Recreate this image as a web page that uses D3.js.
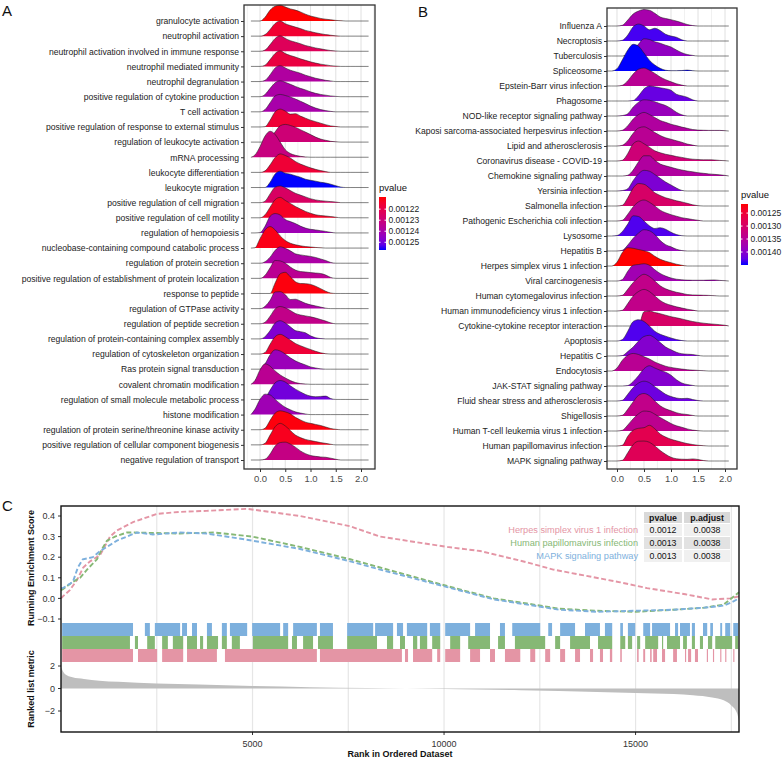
<!DOCTYPE html>
<html><head><meta charset="utf-8">
<script src="https://cdn.jsdelivr.net/npm/d3@7"></script>
<style>body{margin:0;background:#fff}text{font-family:"Liberation Sans",Arial,Helvetica,sans-serif}</style>
</head><body><svg id="chart" width="784" height="759"></svg>
<script>
// ---------------- DATA ----------------
const A_TERMS = ["granulocyte activation","neutrophil activation","neutrophil activation involved in immune response","neutrophil mediated immunity","neutrophil degranulation","positive regulation of cytokine production","T cell activation","positive regulation of response to external stimulus","regulation of leukocyte activation","mRNA processing","leukocyte differentiation","leukocyte migration","positive regulation of cell migration","positive regulation of cell motility","regulation of hemopoiesis","nucleobase-containing compound catabolic process","regulation of protein secretion","positive regulation of establishment of protein localization","response to peptide","regulation of GTPase activity","regulation of peptide secretion","regulation of protein-containing complex assembly","regulation of cytoskeleton organization","Ras protein signal transduction","covalent chromatin modification","regulation of small molecule metabolic process","histone modification","regulation of protein serine/threonine kinase activity","positive regulation of cellular component biogenesis","negative regulation of transport"];
const A_PVALUE = [0.001209,0.001215,0.001223,0.001218,0.001238,0.001239,0.001240,0.001216,0.001229,0.001231,0.001216,0.001257,0.001225,0.001213,0.001242,0.001211,0.001239,0.001235,0.001210,0.001239,0.001233,0.001248,0.001216,0.001243,0.001235,0.001250,0.001242,0.001210,0.001212,0.001232];
const A_X = [-0.18,-0.1,0,0.1,0.2,0.3,0.4,0.5,0.6,0.7,0.8,0.9,1.0,1.1,1.2,1.3,1.4,1.5,1.6,1.7,1.8,1.9,2.0,2.1,2.15];
const A_DENSITY = [
[0,0,0,.25,.72,.98,1.05,.92,.8,.72,.6,.45,.33,.25,.17,.12,.08,.04,.02,0,0,0,0,0,0],
[0,0,0,.1,.44,.84,1.0,.82,.7,.6,.5,.38,.3,.22,.16,.1,.06,.02,0,0,0,0,0,0,0],
[0,0,0,.08,.44,.85,1.02,.85,.7,.6,.5,.38,.3,.22,.16,.1,.05,.02,0,0,0,0,0,0,0],
[0,0,0,.08,.45,.86,1.03,.85,.72,.62,.5,.4,.3,.22,.15,.1,.05,.02,0,0,0,0,0,0,0],
[0,0,0,.08,.45,.9,1.05,.9,.75,.65,.55,.42,.32,.22,.15,.08,.04,0,0,0,0,0,0,0,0],
[0,0,0,.15,.55,.92,1.05,.95,.82,.68,.55,.45,.32,.22,.15,.1,.05,.02,0,0,0,0,0,0,0],
[0,0,0,.15,.6,1.05,1.15,1.08,.98,.85,.7,.55,.38,.25,.15,.08,.03,0,0,0,0,0,0,0,0],
[0,0,0,.02,.45,1.0,1.18,1.05,.85,.88,.72,.58,.45,.35,.25,.15,.07,.03,0,0,0,0,0,0,0],
[0,0,0,0,.25,.68,1.08,1.17,1.1,.98,.82,.66,.5,.33,.2,.12,.05,.02,0,0,0,0,0,0,0],
[0,.15,.7,1.4,1.72,1.5,1.0,.5,.25,.13,.06,.02,0,0,0,0,0,0,0,0,0,0,0,0,0],
[0,0,0,.1,.5,.98,1.22,1.12,.95,.72,.55,.42,.3,.2,.12,.05,0,0,0,0,0,0,0,0,0],
[0,0,0,0,.35,.9,1.08,.95,.88,.78,.68,.55,.48,.42,.35,.3,.22,.12,.03,0,0,0,0,0,0],
[0,0,0,.1,.58,1.02,1.1,.98,.8,.62,.5,.38,.26,.18,.13,.1,.07,.04,0,0,0,0,0,0,0],
[0,0,0,.2,.7,1.2,1.35,1.15,.95,.75,.58,.42,.3,.2,.15,.12,.08,.04,0,0,0,0,0,0,0],
[0,0,.02,.44,1.1,1.28,1.18,.88,.75,.62,.45,.32,.24,.2,.15,.1,.04,0,0,0,0,0,0,0,0],
[0,.02,.62,1.2,1.42,1.2,.8,.5,.32,.22,.15,.1,.07,.04,.02,0,0,0,0,0,0,0,0,0,0],
[0,0,0,.1,.4,.85,1.08,.98,.82,.62,.55,.5,.45,.38,.28,.18,.05,0,0,0,0,0,0,0,0],
[0,0,0,.2,.7,1.18,1.15,1.0,.75,.55,.45,.42,.38,.35,.32,.22,.06,0,0,0,0,0,0,0,0],
[0,0,0,0,0,.7,1.3,1.4,1.1,.78,.66,.65,.6,.48,.32,.15,.03,0,0,0,0,0,0,0,0],
[0,0,0,.15,.55,1.1,1.12,.92,.6,.62,.5,.35,.25,.18,.1,.03,0,0,0,0,0,0,0,0,0],
[0,0,0,.1,.5,.98,1.14,1.05,.88,.68,.58,.52,.46,.38,.28,.18,.06,0,0,0,0,0,0,0,0],
[0,0,0,.15,.55,1.05,1.2,1.05,.8,.55,.48,.4,.2,.08,.02,0,0,0,0,0,0,0,0,0,0],
[0,0,0,.1,.65,1.15,1.3,1.15,.92,.7,.55,.42,.3,.18,.08,.02,0,0,0,0,0,0,0,0,0],
[0,0,0,.35,.95,1.28,1.2,1.0,.75,.55,.4,.28,.15,.08,.02,0,0,0,0,0,0,0,0,0,0],
[0,.25,.95,1.35,1.2,.88,.62,.42,.25,.12,.05,.02,0,0,0,0,0,0,0,0,0,0,0,0,0],
[0,0,0,.1,.62,1.1,1.25,1.15,.9,.68,.5,.33,.22,.18,.2,.22,.06,0,0,0,0,0,0,0,0],
[0,.35,1.0,1.35,1.3,1.0,.72,.48,.32,.18,.1,.04,0,0,0,0,0,0,0,0,0,0,0,0,0],
[0,0,0,.1,.62,1.1,1.25,1.18,1.05,.82,.65,.5,.42,.35,.28,.18,.08,.03,0,0,0,0,0,0,0],
[0,0,0,.1,.65,1.2,1.42,1.25,.95,.65,.48,.36,.28,.22,.15,.1,.04,0,0,0,0,0,0,0,0],
[0,0,0,.05,.4,.92,1.15,1.18,1.05,.85,.6,.42,.3,.24,.2,.18,.12,.05,0,0,0,0,0,0,0]
];
const A_LEGEND_TICKS = [0.00122,0.00123,0.00124,0.00125];

const B_TERMS = ["Influenza A","Necroptosis","Tuberculosis","Spliceosome","Epstein-Barr virus infection","Phagosome","NOD-like receptor signaling pathway","Kaposi sarcoma-associated herpesvirus infection","Lipid and atherosclerosis","Coronavirus disease - COVID-19","Chemokine signaling pathway","Yersinia infection","Salmonella infection","Pathogenic Escherichia coli infection","Lysosome","Hepatitis B","Herpes simplex virus 1 infection","Viral carcinogenesis","Human cytomegalovirus infection","Human immunodeficiency virus 1 infection","Cytokine-cytokine receptor interaction","Apoptosis","Hepatitis C","Endocytosis","JAK-STAT signaling pathway","Fluid shear stress and atherosclerosis","Shigellosis","Human T-cell leukemia virus 1 infection","Human papillomavirus infection","MAPK signaling pathway"];
const B_PVALUE = [0.001368,0.001438,0.001391,0.001450,0.001344,0.001422,0.001384,0.001356,0.001344,0.001314,0.001356,0.001408,0.001297,0.001349,0.001434,0.001384,0.001215,0.001375,0.001333,0.001333,0.001297,0.001434,0.001403,0.001344,0.001403,0.001419,0.001333,0.001340,0.001274,0.001281];
const B_X = [-0.19,-0.1,0,0.1,0.2,0.3,0.4,0.5,0.6,0.7,0.8,0.9,1.0,1.1,1.2,1.3,1.4,1.5,1.6,1.7,1.8,1.9,2.0,2.07];
const B_DENSITY = [
[0,0,0,.05,.4,.8,1.0,1.1,1.05,.85,.6,.5,.42,.33,.22,.1,.03,0,0,0,0,0,0,0],
[0,0,0,.05,.4,.95,1.13,1.0,.75,.85,.7,.45,.33,.25,.08,0,0,0,0,0,0,0,0,0],
[0,0,0,0,.1,.4,.8,1.15,1.1,.95,.85,.72,.6,.4,.22,.1,.04,0,0,0,0,0,0,0],
[0,0,.15,.75,1.4,1.78,1.65,1.2,.72,.4,.18,.05,.02,.02,.03,.06,.02,0,0,0,0,0,0,0],
[0,0,0,.05,.35,.8,1.12,1.2,1.05,.84,.6,.42,.28,.15,.06,0,0,0,0,0,0,0,0,0],
[0,0,0,0,0,.03,.35,.8,1.0,.95,.88,.82,.72,.45,.35,.25,.08,0,0,0,0,0,0,0],
[0,0,0,.03,.15,.6,.92,1.08,1.05,.95,.82,.7,.5,.25,.08,0,0,0,0,0,0,0,0,0],
[0,0,0,.05,.35,.8,1.1,1.24,1.1,.9,.7,.58,.45,.36,.26,.18,.1,.06,.05,.04,.04,.04,.02,0],
[0,0,0,.05,.35,.85,1.2,1.28,1.12,.9,.7,.55,.45,.35,.25,.13,.06,0,0,0,0,0,0,0],
[0,0,0,.05,.5,1.15,1.33,1.15,.92,.68,.55,.45,.38,.3,.24,.17,.12,.1,.08,.08,.07,.04,.02,0],
[0,0,0,0,.05,.4,.95,1.35,1.35,1.05,.8,.68,.58,.48,.4,.33,.28,.22,.18,.14,.11,.08,.04,0],
[0,0,0,.03,.15,.7,1.15,1.38,1.32,1.1,.85,.6,.4,.2,.04,0,0,0,0,0,0,0,0,0],
[0,0,0,.05,.55,1.2,1.5,1.45,1.2,.88,.7,.55,.45,.35,.27,.18,.08,.02,0,0,0,0,0,0],
[0,0,0,.05,.45,.95,1.28,1.4,1.25,1.0,.72,.55,.42,.32,.22,.16,.1,.05,0,0,0,0,0,0],
[0,0,.03,.3,.8,1.35,1.3,1.0,.68,.5,.55,.45,.25,.1,.02,0,0,0,0,0,0,0,0,0],
[0,0,0,.05,.4,.85,1.2,1.42,1.35,1.1,.7,.42,.28,.12,.03,0,0,0,0,0,0,0,0,0],
[0,0,.25,.9,1.22,1.18,1.1,1.02,.9,.65,.45,.32,.22,.12,.05,0,0,0,0,0,0,0,0,0],
[0,0,0,.1,.65,1.05,1.1,1.15,1.05,.75,.5,.33,.2,.12,.08,.06,.05,.05,.05,.06,.07,.04,.02,0],
[0,0,0,.05,.45,.9,1.25,1.45,1.3,1.0,.68,.48,.35,.25,.18,.1,.07,.06,.05,.04,.02,0,0,0],
[0,0,0,.05,.5,1.0,1.3,1.44,1.3,1.0,.7,.5,.38,.28,.2,.12,.06,0,0,0,0,0,0,0],
[0,0,0,0,0,0,.05,.95,1.0,.9,.82,.72,.62,.55,.47,.38,.3,.24,.19,.15,.12,.09,.05,0],
[0,0,0,.1,.65,1.3,1.42,1.3,1.0,.65,.45,.32,.2,.1,.03,0,0,0,0,0,0,0,0,0],
[0,0,0,.03,.3,.6,1.0,1.3,1.38,1.2,.9,.6,.42,.25,.15,.12,.1,.04,0,0,0,0,0,0],
[0,0,.2,.72,1.05,1.17,1.1,.95,.8,.6,.45,.32,.24,.18,.13,.09,.06,.04,.02,0,0,0,0,0],
[0,0,0,0,.03,.3,.7,1.15,1.35,1.2,1.05,.92,.72,.42,.2,.1,.04,0,0,0,0,0,0,0],
[0,0,0,.05,.45,.9,1.2,1.32,1.22,.95,.7,.45,.3,.2,.16,.18,.1,.03,0,0,0,0,0,0],
[0,0,0,.05,.45,.95,1.38,1.5,1.35,1.0,.68,.48,.35,.22,.14,.1,.04,0,0,0,0,0,0,0],
[0,0,0,.05,.4,.82,1.15,1.33,1.3,1.12,.9,.7,.5,.35,.25,.14,.06,.02,0,0,0,0,0,0],
[0,0,0,.05,.65,1.05,1.18,1.22,1.38,1.15,.8,.6,.45,.35,.25,.16,.1,.05,.02,0,0,0,0,0],
[0,0,0,.05,.55,1.1,1.32,1.33,1.25,1.0,.7,.45,.25,.15,.12,.11,.14,.1,.03,0,0,0,0,0]
];
const B_LEGEND_TICKS = [0.00125,0.00130,0.00135,0.00140];
const RIDGE_TICKS = [0,0.5,1,1.5,2];

// Panel C
const C_SETS = ["Herpes simplex virus 1 infection","Human papillomavirus infection","MAPK signaling pathway"];
const C_PVALUE = ["0.0012","0.0013","0.0013"];
const C_PADJUST = ["0.0038","0.0038","0.0038"];
const C_COLORS = ["#E495A5","#86B875","#7DB0DD"];
const ES_HERPES = [[0,0.0],[50,0.01],[230,0.04],[420,0.09],[580,0.15],[760,0.18],[1020,0.21],[1280,0.30],[1460,0.33],[1880,0.37],[2500,0.41],[3100,0.42],[3800,0.425],[4850,0.435],[6240,0.40],[7550,0.35],[8330,0.30],[10080,0.25],[10940,0.23],[12170,0.175],[12850,0.14],[13700,0.11],[14600,0.078],[15300,0.05],[16300,0.02],[17000,-0.005],[17470,0.0],[17700,0.01]];
const ES_HPV = [[0,0.04],[50,0.045],[310,0.08],[500,0.10],[680,0.14],[810,0.165],[940,0.19],[1070,0.24],[1200,0.28],[1410,0.30],[1720,0.32],[1880,0.32],[3100,0.315],[4000,0.32],[5000,0.30],[6240,0.25],[7550,0.19],[8330,0.15],[10080,0.06],[11300,0.0],[12170,-0.025],[13000,-0.05],[14000,-0.06],[15000,-0.065],[16000,-0.055],[16800,-0.045],[17300,-0.03],[17500,0.0],[17700,0.03]];
const ES_MAPK = [[0,0.05],[50,0.05],[310,0.08],[440,0.15],[570,0.19],[830,0.20],[1020,0.23],[1200,0.25],[1460,0.28],[1720,0.30],[1980,0.32],[2400,0.31],[3100,0.32],[3800,0.315],[4850,0.285],[6240,0.24],[7550,0.18],[8330,0.14],[10080,0.055],[11300,-0.005],[12170,-0.03],[13000,-0.055],[14000,-0.065],[15000,-0.06],[16000,-0.055],[16800,-0.045],[17300,-0.035],[17500,-0.02],[17700,0.0]];
const HITS_MAPK = [[30,1880],[2190,2320],[2450,3110],[3160,3290],[3420,3550],[3810,3940],[4200,4330],[4410,4860],[4990,5720],[5800,5930],[6060,6680],[6760,7100],[7470,8150],[8200,8670],[8770,8930],[9030,9560],[9630,9900],[10030,10680],[10810,11200],[11460,11590],[11780,12510],[12720,12820],[13030,13420],[13680,14070],[14200,14390],[14600,14670],[14800,14990],[15200,15380],[15430,15900],[16030,16110],[16160,16420],[16470,16550],[16760,16870],[16950,17020],[17210,17260],[17340,17470],[17550,17680]];
const HITS_HPV = [[30,1800],[1930,2010],[2250,2450],[2640,2790],[2920,3190],[3290,3550],[3630,3710],[3810,4100],[4200,4330],[4460,4670],[5010,5930],[6030,6160],[6320,6580],[6710,7100],[7470,8250],[8510,8670],[8850,8980],[9190,9300],[9370,9560],[9690,9900],[10160,10420],[10630,11200],[11410,11590],[11850,12640],[12900,13030],[13290,13810],[14020,14390],[14600,14730],[14800,14910],[15040,15120],[15250,15590],[15690,15720],[15820,16160],[16240,16340],[16470,16550],[16680,16760],[16890,17000],[17080,17520],[17600,17680]];
const HITS_HERPES = [[30,1880],[2010,2510],[2640,3190],[3290,4070],[4280,6680],[6760,8900],[8980,9060],[9190,9690],[9820,9900],[10030,10420],[10680,10940],[11200,11330],[11590,11990],[12250,12380],[12640,12770],[13030,13160],[13420,13550],[13810,13890],[14070,14150],[14330,14390],[14600,14640],[15040,15080],[15200,15250],[15380,15420],[15460,15560],[15690,15770],[15980,16080],[16290,16320],[16370,16450],[16550,16630],[16860,16890],[17020,17050],[17210,17240],[17340,17370],[17550,17580]];
const METRIC = [[0,1.9],[100,1.3],[300,1.0],[600,0.85],[1000,0.7],[1500,0.6],[2500,0.45],[3600,0.35],[5000,0.22],[6500,0.12],[8000,0.05],[9000,0.0],[10000,-0.05],[12000,-0.15],[14000,-0.3],[15500,-0.45],[16500,-0.6],[17000,-0.8],[17300,-1.05],[17500,-1.5],[17650,-2.2],[17700,-2.9]];
const RANK_TICKS = [5000,10000,15000];
const RANK_GRID = [2500,5000,7500,10000,12500,15000,17500];
const ES_TICKS = [0.4,0.3,0.2,0.1,0.0,-0.1];
const METRIC_TICKS = [2,0,-2];

// ---------------- DRAW ----------------
const svg = d3.select("#chart");
svg.append("rect").attr("width",784).attr("height",759).attr("fill","#fff");
const FONT = 8.6;
const fmtMinus = v => d3.format(".1f")(v).replace("-","\u2212");

function ridgePanel(cfg){
  const g = svg.append("g");
  const x = d3.scaleLinear().domain(cfg.xdom).range([cfg.left,cfg.right]);
  const y = d3.scalePoint().domain(cfg.terms).range([cfg.y0,cfg.y1]);
  const rowH = (cfg.y1-cfg.y0)/(cfg.terms.length-1);
  const col = d3.scaleLinear().domain(cfg.pdom).range(["red","blue"]).interpolate(d3.interpolateLab);
  const minor = d3.range(-0.25,2.3,0.5).filter(v=>x(v)>cfg.left&&x(v)<cfg.right);
  g.selectAll(".mn").data(minor).join("line").attr("x1",d=>x(d)).attr("x2",d=>x(d)).attr("y1",cfg.top).attr("y2",cfg.bottom).attr("stroke","#EDEDED").attr("stroke-width",0.8);
  g.selectAll(".mj").data(RIDGE_TICKS).join("line").attr("x1",d=>x(d)).attr("x2",d=>x(d)).attr("y1",cfg.top).attr("y2",cfg.bottom).attr("stroke","#E3E3E3").attr("stroke-width",1.1);
  cfg.terms.forEach((t,i)=>{
    const base = y(t);
    const pts = cfg.xs.map((xv,k)=>[xv,cfg.dens[i][k]]);
    const area = d3.area().x(d=>x(d[0])).y0(base).y1(d=>base-d[1]*rowH).curve(d3.curveMonotoneX);
    const line = d3.line().x(d=>x(d[0])).y(d=>base-d[1]*rowH).curve(d3.curveMonotoneX);
    g.append("path").attr("d",area(pts)).attr("fill",col(cfg.pvals[i]));
    g.append("path").attr("d",line(pts)).attr("fill","none").attr("stroke","#1a1a1a").attr("stroke-width",0.55);
  });
  const ax = g.append("g").attr("transform",`translate(0,${cfg.bottom})`).call(d3.axisBottom(x).tickValues(RIDGE_TICKS).tickFormat(d3.format(".1f")).tickSize(3).tickPadding(3));
  ax.select(".domain").remove();
  ax.selectAll("line").attr("stroke","#333");
  ax.selectAll("text").attr("font-size",9.5).attr("fill","#4D4D4D").attr("font-family",null);
  const ay = g.append("g").attr("transform",`translate(${cfg.left},0)`).call(d3.axisLeft(y).tickSize(3).tickPadding(2));
  ay.select(".domain").remove();
  ay.selectAll("line").attr("stroke","#333");
  ay.selectAll("text").attr("font-size",FONT).attr("fill","#222").attr("font-family",null);
  g.append("rect").attr("x",cfg.left).attr("y",cfg.top).attr("width",cfg.right-cfg.left).attr("height",cfg.bottom-cfg.top).attr("fill","none").attr("stroke","#333").attr("stroke-width",1.3);
  const lg = svg.append("g");
  lg.append("text").attr("x",cfg.lx).attr("y",cfg.ly0-6).attr("font-size",9.5).attr("fill","#111").text("pvalue");
  const gid = "grad"+cfg.id;
  const grad = svg.append("defs").append("linearGradient").attr("id",gid).attr("x1",0).attr("x2",0).attr("y1",0).attr("y2",1);
  d3.range(0,1.0001,0.1).forEach(f=>grad.append("stop").attr("offset",f).attr("stop-color",col(cfg.pdom[0]+f*(cfg.pdom[1]-cfg.pdom[0]))));
  lg.append("rect").attr("x",cfg.lx).attr("y",cfg.ly0).attr("width",7).attr("height",cfg.ly1-cfg.ly0).attr("fill",`url(#${gid})`);
  const ly = d3.scaleLinear().domain(cfg.pdom).range([cfg.ly0,cfg.ly1]);
  cfg.lticks.forEach(v=>{
    lg.append("line").attr("x1",cfg.lx).attr("x2",cfg.lx+1.5).attr("y1",ly(v)).attr("y2",ly(v)).attr("stroke","#fff");
    lg.append("line").attr("x1",cfg.lx+5.5).attr("x2",cfg.lx+7).attr("y1",ly(v)).attr("y2",ly(v)).attr("stroke","#fff");
    lg.append("text").attr("x",cfg.lx+9.5).attr("y",ly(v)).attr("dy","0.35em").attr("font-size",8.5).attr("fill","#222").text(d3.format(".5f")(v));
  });
}

ridgePanel({id:"A",terms:A_TERMS,pvals:A_PVALUE,dens:A_DENSITY,xs:A_X,xdom:[-0.317,2.277],left:244,right:375,top:5,bottom:469,y0:21,y1:460,pdom:[0.001209,0.001257],lx:379,ly0:197,ly1:250,lticks:A_LEGEND_TICKS});
ridgePanel({id:"B",terms:B_TERMS,pvals:B_PVALUE,dens:B_DENSITY,xs:B_X,xdom:[-0.185,2.222],left:607,right:737,top:8,bottom:469,y0:26,y1:461,pdom:[0.001215,0.00145],lx:741,ly0:204,ly1:265,lticks:B_LEGEND_TICKS});

svg.append("text").attr("x",2).attr("y",16).attr("font-size",15).attr("fill","#111").text("A");
svg.append("text").attr("x",418).attr("y",17).attr("font-size",15).attr("fill","#111").text("B");
svg.append("text").attr("x",2).attr("y",511).attr("font-size",15).attr("fill","#111").text("C");

// ---------------- Panel C ----------------
const cL=61,cR=739,cT=506,cB=732;
const xC = d3.scaleLinear().domain([0,17700]).range([cL,cR]);
const yES = d3.scaleLinear().domain([-0.1,0.4]).range([619,516]);
const yM = d3.scaleLinear().domain([-2,2]).range([711,666]);
const gc = svg.append("g");
gc.selectAll(".vg").data(RANK_GRID).join("line").attr("x1",d=>xC(d)).attr("x2",d=>xC(d)).attr("y1",cT).attr("y2",cB).attr("stroke","#E6E6E6").attr("stroke-width",1.2);
gc.append("path").attr("d",d3.area().x(d=>xC(d[0])).y0(yM(0)).y1(d=>yM(d[1])).curve(d3.curveMonotoneX)(METRIC)).attr("fill","#BEBEBE");
const rugs=[[HITS_MAPK,C_COLORS[2],623,636],[HITS_HPV,C_COLORS[1],636,649],[HITS_HERPES,C_COLORS[0],649,662]];
rugs.forEach(([hits,c,y0,y1])=>{
  gc.append("g").selectAll("rect").data(hits).join("rect").attr("x",d=>xC(d[0])).attr("width",d=>Math.max(1,xC(d[1])-xC(d[0]))).attr("y",y0).attr("height",y1-y0).attr("fill",c);
});
const esLine = d3.line().x(d=>xC(d[0])).y(d=>yES(d[1]));
[[ES_HERPES,C_COLORS[0]],[ES_HPV,C_COLORS[1]],[ES_MAPK,C_COLORS[2]]].forEach(([es,c])=>{
  gc.append("path").attr("d",esLine(es)).attr("fill","none").attr("stroke",c).attr("stroke-width",1.9).attr("stroke-dasharray","5,2.5");
});
ES_TICKS.forEach(v=>{
  gc.append("text").attr("x",55).attr("y",yES(v)).attr("dy","0.35em").attr("text-anchor","end").attr("font-size",9).attr("fill","#333").text(fmtMinus(v));
  gc.append("line").attr("x1",58).attr("x2",cL).attr("y1",yES(v)).attr("y2",yES(v)).attr("stroke","#333");
});
METRIC_TICKS.forEach(v=>{
  gc.append("text").attr("x",55).attr("y",yM(v)).attr("dy","0.35em").attr("text-anchor","end").attr("font-size",9).attr("fill","#333").text(String(v).replace("-","\u2212"));
  gc.append("line").attr("x1",58).attr("x2",cL).attr("y1",yM(v)).attr("y2",yM(v)).attr("stroke","#333");
});
RANK_TICKS.forEach(v=>{
  gc.append("text").attr("x",xC(v)).attr("y",747).attr("text-anchor","middle").attr("font-size",9).attr("fill","#333").text(v);
  gc.append("line").attr("x1",xC(v)).attr("x2",xC(v)).attr("y1",cB).attr("y2",cB+3).attr("stroke","#333");
});
gc.append("text").attr("x",400).attr("y",757).attr("text-anchor","middle").attr("font-size",9).attr("font-weight","bold").attr("fill","#111").text("Rank in Ordered Dataset");
gc.append("text").attr("transform","translate(33.5,568) rotate(-90)").attr("text-anchor","middle").attr("font-size",9).attr("font-weight","bold").attr("fill","#111").text("Running Enrichment Score");
gc.append("text").attr("transform","translate(33.5,689) rotate(-90)").attr("text-anchor","middle").attr("font-size",9).attr("font-weight","bold").attr("fill","#111").text("Ranked list metric");
const tb = gc.append("g");
const colX=[[644,682],[684,730]];
tb.append("rect").attr("x",colX[0][0]).attr("y",512).attr("width",colX[0][1]-colX[0][0]).attr("height",11).attr("fill","#D9D9D9");
tb.append("rect").attr("x",colX[1][0]).attr("y",512).attr("width",colX[1][1]-colX[1][0]).attr("height",11).attr("fill","#D9D9D9");
tb.append("text").attr("x",(colX[0][0]+colX[0][1])/2).attr("y",517.5).attr("dy","0.35em").attr("text-anchor","middle").attr("font-size",8.8).attr("font-weight","bold").attr("fill","#111").text("pvalue");
tb.append("text").attr("x",(colX[1][0]+colX[1][1])/2).attr("y",517.5).attr("dy","0.35em").attr("text-anchor","middle").attr("font-size",8.8).attr("font-weight","bold").attr("fill","#111").text("p.adjust");
C_SETS.forEach((s,i)=>{
  const cy = 530+i*13;
  const bg = i===1?"#E2E2E2":"#F0F0F0";
  tb.append("rect").attr("x",colX[0][0]).attr("y",cy-6).attr("width",colX[0][1]-colX[0][0]).attr("height",12).attr("fill",bg);
  tb.append("rect").attr("x",colX[1][0]).attr("y",cy-6).attr("width",colX[1][1]-colX[1][0]).attr("height",12).attr("fill",bg);
  tb.append("text").attr("x",638).attr("y",cy).attr("dy","0.35em").attr("text-anchor","end").attr("font-size",9.2).attr("fill",C_COLORS[i]).text(s);
  tb.append("text").attr("x",(colX[0][0]+colX[0][1])/2).attr("y",cy).attr("dy","0.35em").attr("text-anchor","middle").attr("font-size",8.8).attr("fill","#111").text(C_PVALUE[i]);
  tb.append("text").attr("x",(colX[1][0]+colX[1][1])/2).attr("y",cy).attr("dy","0.35em").attr("text-anchor","middle").attr("font-size",8.8).attr("fill","#111").text(C_PADJUST[i]);
});
gc.append("rect").attr("x",cL).attr("y",cT).attr("width",cR-cL).attr("height",cB-cT).attr("fill","none").attr("stroke","#111").attr("stroke-width",1.4);
</script></body></html>
